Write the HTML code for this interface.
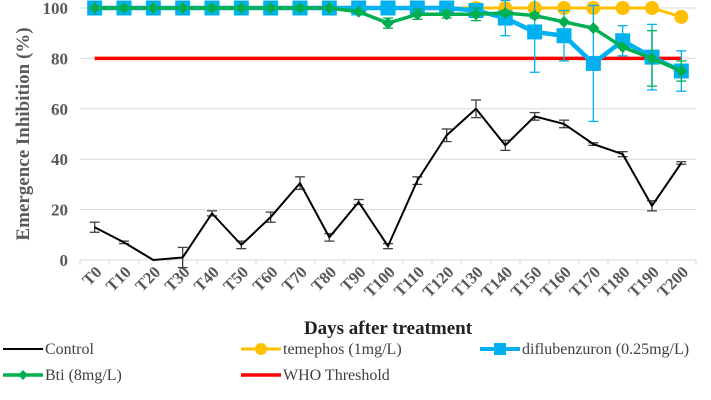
<!DOCTYPE html>
<html><head><meta charset="utf-8"><style>
body{margin:0;background:#fff;}
svg{display:block;font-family:"Liberation Serif",serif;}
</style></head><body>
<svg id="c" width="711" height="400"></svg>
<script>
const categories=["T0","T10","T20","T30","T40","T50","T60","T70","T80","T90","T100","T110","T120","T130","T140","T150","T160","T170","T180","T190","T200"];
const control=[13,7,0,1,18.5,6,17,30.5,9,23,5.5,31.5,49.5,60,45.5,57,54,46,42,21.5,38.5];
const controlErr=[2,0.5,0,4,1,1.5,2,2.5,1.5,1,1,1.5,2.5,3.5,2,1.5,1.5,0.5,1,2,0.5];
const temephos=[100,100,100,100,100,100,100,100,100,100,100,100,100,100,100,100,100,100,100,100,96.5];
const diflu=[100,100,100,100,100,100,100,100,100,100,100,100,100,99,96,90.5,89,78,87,80.5,75];
const difluErr=[0,0,0,0,0,0,0,0,0,0,0,0,0,0,7,16,10,23,6,13,8];
const bti=[100,100,100,100,100,100,100,100,100,98.5,94,97.5,97.5,97.5,98,97,94.5,92,84.5,80,75];
const btiErr=[0,0,0,0,0,0,0,0,0,0,2,2,1.5,2.5,1,1,0,0,0,11,4];
const threshold=[80,80];
const yTicks=[0,20,40,60,80,100];
const NS="http://www.w3.org/2000/svg";
const svg=document.getElementById('c');
const X0=80,X1=696,Y0=260,Y1=8;
const bw=(X1-X0)/categories.length;
const x=i=>X0+bw*(i+0.5);
const y=v=>Y0-(v/100)*(Y0-Y1);
function el(t,a,p){const e=document.createElementNS(NS,t);for(const k in a)e.setAttribute(k,a[k]);(p||svg).appendChild(e);return e;}
yTicks.forEach(t=>{
 if(t>0){const g=el('line',{x1:X0,x2:X1,y1:y(t),y2:y(t),stroke:'#d9d9d9','stroke-width':1});
 
 }
 const l=el('text',{x:X0-12,y:y(t)+6,'text-anchor':'end','font-size':17,'font-weight':'bold',fill:'#595959'});l.textContent=t;
 
 
});
const ax=el('line',{x1:X0,x2:X1,y1:Y0,y2:Y0,stroke:'#d9d9d9','stroke-width':1});


categories.forEach((c,i)=>{
 el('line',{x1:X0+bw*i,x2:X0+bw*i,y1:Y0,y2:Y0+5,stroke:'#d9d9d9'});
 const t=el('text',{transform:`translate(${x(i)+8},${Y0+13}) rotate(-45)`,'text-anchor':'end','font-size':16.5,'font-weight':'bold',fill:'#595959'});
 t.textContent=c;
 
 
});
el('line',{x1:X1,x2:X1,y1:Y0,y2:Y0+5,stroke:'#d9d9d9'});
const yt=el('text',{transform:`translate(29,${(Y0+Y1)/2}) rotate(-90)`,'text-anchor':'middle','font-size':19,'font-weight':'bold',fill:'#595959'});
yt.textContent='Emergence Inhibition (%)';


const xt=el('text',{x:388,y:334,'text-anchor':'middle','font-size':19,'font-weight':'bold',fill:'#222'});
xt.textContent='Days after treatment';


function errs(vals,err,col,name){const g=el('g',{});
 vals.forEach((v,i)=>{const e=err[i];if(!e)return;const a=y(v+e),b=y(v-e);
 el('line',{x1:x(i),x2:x(i),y1:a,y2:b,stroke:col,'stroke-width':1.3},g);
 el('line',{x1:x(i)-5,x2:x(i)+5,y1:a,y2:a,stroke:col,'stroke-width':1.3},g);
 el('line',{x1:x(i)-5,x2:x(i)+5,y1:b,y2:b,stroke:col,'stroke-width':1.3},g);});}
function line(vals,col,w,name){const p=el('polyline',{points:vals.map((v,i)=>x(i)+','+y(v)).join(' '),fill:'none',stroke:col,'stroke-width':w,'stroke-linejoin':'round'});
 }
const th=el('line',{x1:x(0),x2:x(categories.length-1),y1:y(threshold[0]),y2:y(threshold[1]),stroke:'#ff0000','stroke-width':3.5});


line(temephos,'#ffc000',3,'temephos-line');
temephos.forEach((v,i)=>{const m=el('circle',{cx:x(i),cy:y(v),r:7,fill:'#ffc000'});});
errs(diflu,difluErr,'#00b0f0','diflubenzuron-error-bars');
line(diflu,'#00b0f0',4.5,'diflubenzuron-line');
diflu.forEach((v,i)=>{const m=el('rect',{x:x(i)-7.5,y:y(v)-7.5,width:15,height:15,fill:'#00b0f0'});});
errs(bti,btiErr,'#00b050','bti-error-bars');
line(bti,'#00b050',3.5,'bti-line');
bti.forEach((v,i)=>{const m=el('polygon',{points:`${x(i)},${y(v)-6} ${x(i)+6},${y(v)} ${x(i)},${y(v)+6} ${x(i)-6},${y(v)}`,fill:'#00b050'});});
errs(control,controlErr,'#404040','control-error-bars');
line(control,'#000',2,'control-line');
function leg(lx,ly,col,w,mk,label,name){const g=el('g',{});
 el('line',{x1:lx,x2:lx+40,y1:ly,y2:ly,stroke:col,'stroke-width':w},g);
 if(mk==='c')el('circle',{cx:lx+20,cy:ly,r:6,fill:col},g);
 if(mk==='s')el('rect',{x:lx+14,y:ly-6,width:12,height:12,fill:col},g);
 if(mk==='d')el('polygon',{points:`${lx+20},${ly-5} ${lx+25},${ly} ${lx+20},${ly+5} ${lx+15},${ly}`,fill:col},g);
 const t=el('text',{x:lx+42,y:ly+5,'font-size':16,fill:'#404040'},g);t.textContent=label;}
leg(3,349,'#000',2,'','Control','legend-control');
leg(241,349,'#ffc000',3,'c','temephos (1mg/L)','legend-temephos');
leg(480,349,'#00b0f0',4,'s','diflubenzuron (0.25mg/L)','legend-diflubenzuron');
leg(3,375,'#00b050',3.5,'d','Bti (8mg/L)','legend-bti');
leg(241,375,'#ff0000',3.5,'','WHO Threshold','legend-who-threshold');
</script>
</body></html>
